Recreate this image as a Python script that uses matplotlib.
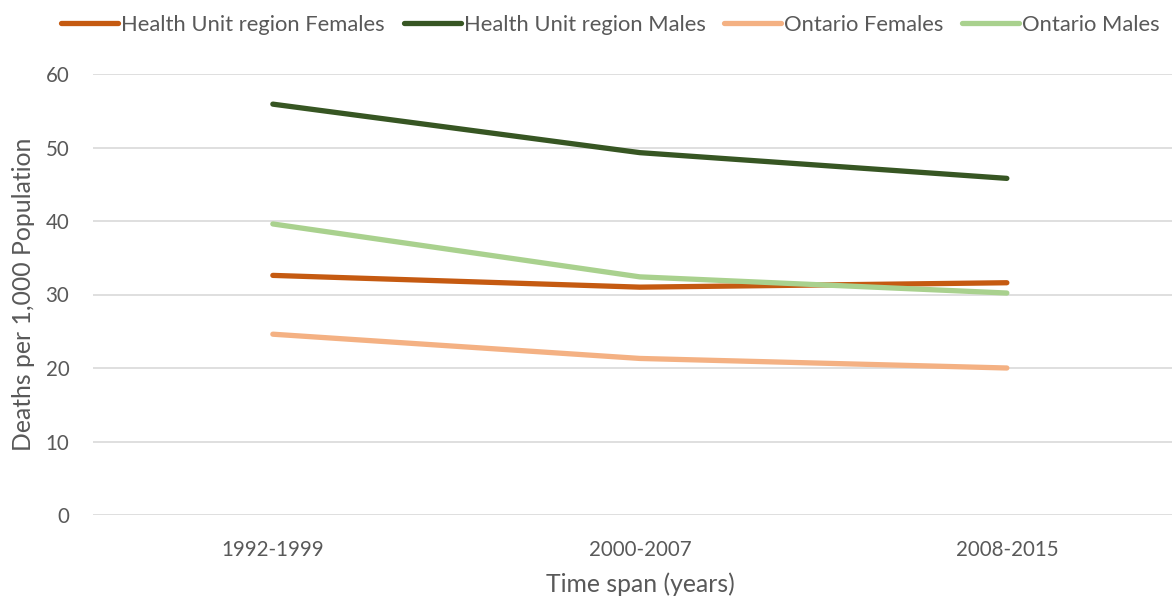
import matplotlib
matplotlib.use("Agg")
import matplotlib.pyplot as plt

categories = ["1992-1999", "2000-2007", "2008-2015"]
hu_females = [32.6, 31.0, 31.6]
hu_males = [55.9, 49.3, 45.8]
on_females = [24.6, 21.3, 20.0]
on_males = [39.6, 32.4, 30.2]

series = [
    ("Health Unit region Females", hu_females, "#C55A11"),
    ("Health Unit region Males", hu_males, "#375623"),
    ("Ontario Females", on_females, "#F4B183"),
    ("Ontario Males", on_males, "#A9D18E"),
]

plt.rcParams['font.family'] = ['Lato', 'DejaVu Sans']
txt = "#595959"

fig = plt.figure(figsize=(11.72, 5.97), dpi=100)
ax = fig.add_axes([93/1172, 1-515/597, 1-93/1172, (515-74)/597])

x = list(range(len(categories)))
for name, vals, col in series:
    ax.plot(x, vals, color=col, lw=3.8, solid_capstyle='round', label=name, zorder=3)

ax.set_ylim(0, 60)
ax.set_xlim(-0.49, 2.45)
ax.set_yticks(range(0, 61, 10))
ax.set_xticks(x)
ax.set_xticklabels(categories)
ax.grid(axis='y', color='#d9d9d9', lw=1.2, zorder=0)
for s in ax.spines.values():
    s.set_visible(False)
ax.tick_params(axis='both', length=0, labelsize=14.8, colors=txt)
ax.tick_params(axis='y', pad=17)
ax.tick_params(axis='x', pad=18)
ax.set_ylabel("Deaths per 1,000 Population", fontsize=17.8, color=txt, labelpad=8)
ax.set_xlabel("Time span (years)", fontsize=17.8, color=txt, labelpad=9)
ax.xaxis.label.set_x(0.507)

leg = fig.legend(loc='upper center', bbox_to_anchor=(0.521, 1.008), ncol=4, frameon=False,
                 fontsize=15.8, handlelength=2.6, handletextpad=0.14, columnspacing=0.85)
for t in leg.get_texts():
    t.set_color(txt)

fig.savefig("out.png", dpi=100)
